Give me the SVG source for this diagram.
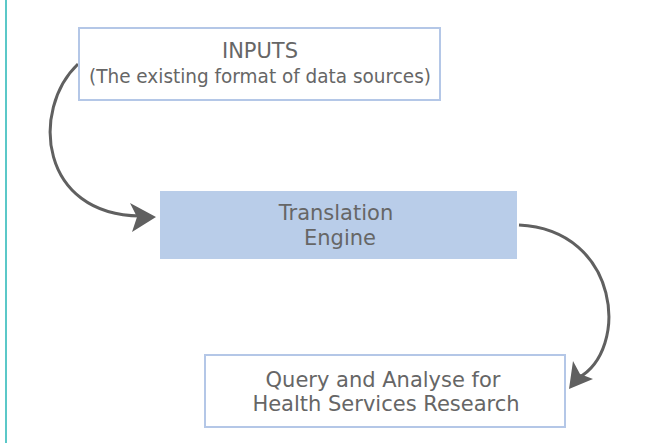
<svg xmlns="http://www.w3.org/2000/svg" width="646" height="443" viewBox="0 0 646 443">
<defs>
<style>
.t{font-family:"DejaVu Sans","Liberation Sans",sans-serif;font-size:21px;fill:#666666;text-anchor:middle}
.s{font-size:20px}
.box{fill:#ffffff;stroke:#b4c7e7;stroke-width:2}
.fill{fill:#b9cde9;stroke:none}
.c{fill:none;stroke:#606060;stroke-width:3}
</style>
</defs>
<rect width="646" height="443" fill="#ffffff"/>
<line x1="6" y1="0" x2="6" y2="443" stroke="#5bc8c8" stroke-width="2"/>
<g id="connectors">
<path class="c" d="M78,64 C30,110 40,215 140,216"/>
<path d="M156,217 L130,203 L137,217 L132,232 Z" fill="#606060"/>
<path class="c" d="M519,225 C620,230 630,350 578,378"/>
<path d="M569,389 L573,361 L580,374 L593,379 Z" fill="#606060"/>
</g>
<g id="inputs">
<rect class="box" x="79" y="28" width="361" height="72"/>
<text class="t" x="260" y="58">INPUTS</text>
<text class="t s" x="260" y="83" textLength="342" lengthAdjust="spacingAndGlyphs">(The existing format of data sources)</text>
</g>
<g id="engine">
<rect class="fill" x="160" y="191" width="357" height="68"/>
<text class="t" x="336" y="220">Translation</text>
<text class="t" x="340" y="245">Engine</text>
</g>
<g id="query">
<rect class="box" x="205" y="355" width="360" height="72"/>
<text class="t" x="383" y="387">Query and Analyse for</text>
<text class="t" x="386" y="411">Health Services Research</text>
</g>
</svg>
